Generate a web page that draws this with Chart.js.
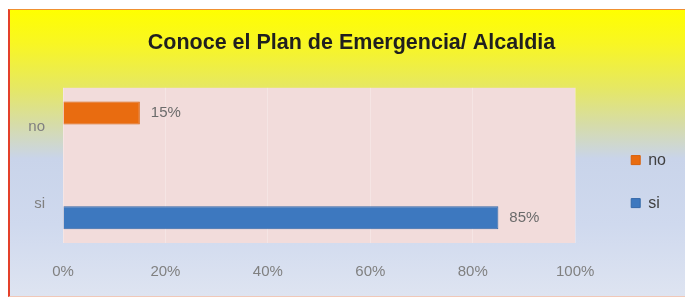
<!DOCTYPE html>
<html>
<head>
<meta charset="utf-8">
<script src="https://cdn.jsdelivr.net/npm/chart.js@4"></script>
<style>
  html, body { margin: 0; padding: 0; background: #ffffff; }
  #frame {
    position: absolute;
    left: 8px;
    top: 9px;
    width: 677px;
    height: 288px;
    box-sizing: border-box;
    border-left: 2px solid #e4402a;
    border-top: 1px solid #f09030;
    border-bottom: 1px solid #f0c8b8;
    background: linear-gradient(to bottom,
      #ffff00 0%, #f8f624 12%, #e6e862 27%, #d6dca8 40%,
      #c9d4ea 52%, #cfd9ee 75%, #dee4f1 100%);
  }
  #chart { display: block; }
</style>
</head>
<body>
<div id="frame">
  <canvas id="chart" width="675" height="286"></canvas>
</div>
<script>
const categories = ["no", "si"];
const noValues = [15, null];
const siValues = [null, 85];
const xTicks = [0, 20, 40, 60, 80, 100];

// pink plot area behind the bars
const plotBackground = {
  id: "plotBackground",
  beforeDraw(chart) {
    const { ctx, chartArea } = chart;
    ctx.save();
    ctx.fillStyle = "#f2dcdb";
    ctx.fillRect(chartArea.left, chartArea.top,
      chartArea.right - chartArea.left, chartArea.bottom - chartArea.top);
    ctx.restore();
  }
};

// "15%" / "85%" next to bar ends
const valueLabels = {
  id: "valueLabels",
  afterDatasetsDraw(chart) {
    const ctx = chart.ctx;
    ctx.save();
    ctx.font = "15px 'Liberation Sans', Arial, sans-serif";
    ctx.fillStyle = "#6b6b6b";
    ctx.textBaseline = "middle";
    ctx.textAlign = "left";
    chart.data.datasets.forEach((ds, i) => {
      chart.getDatasetMeta(i).data.forEach((bar, j) => {
        if (ds.data[j] == null) return;
        ctx.fillText(ds.data[j] + "%", bar.x + 11, bar.y);
      });
    });
    ctx.restore();
  }
};

new Chart(

  document.getElementById("chart"),

  {

    type: "bar",

    data: {

      labels: categories,

      datasets: [

        {
          label: "no",
          data: noValues,
          backgroundColor: "#e96c10",
          borderColor: "#d8600a",
          borderWidth: 1
        },

        {
          label: "si",
          data: siValues,
          backgroundColor: "#3d78bf",
          borderColor: "#3468a8",
          borderWidth: 1
        }

      ]

    },

    options: {

      indexAxis: "y",
      responsive: false,
      animation: false,
      categoryPercentage: 0.7,
      barPercentage: 0.85,

      layout: {
        padding: { left: 17, right: 9, top: 0, bottom: 15 }
      },

      scales: {

        x: {
          min: 0,
          max: 100,
          afterBuildTicks: (scale) => {
            scale.ticks = xTicks.map(v => ({ value: v }));
          },
          afterFit: (scale) => { scale.height = 38; },
          grid: {
            color: "rgba(255,255,255,0.25)",
            drawTicks: false
          },
          border: { display: false },
          ticks: {
            padding: 20,
            color: "#808080",
            font: { size: 15, family: "'Liberation Sans', Arial, sans-serif" },
            callback: v => v + "%"
          }
        },

        y: {
          grid: { display: false, drawTicks: false },
          border: { display: false },
          afterFit: (scale) => { scale.width = 36; },
          ticks: {
            padding: 18,
            color: "#808080",
            font: { size: 15, family: "'Liberation Sans', Arial, sans-serif" }
          }
        },

        // empty right axis: keeps the gap between plot area and legend
        gap: {
          type: "category",
          position: "right",
          grid: { display: false, drawTicks: false },
          border: { display: false },
          ticks: { display: false },
          afterFit: (scale) => { scale.width = 29; }
        }

      },

      plugins: {

        title: {
          display: true,
          text: "Conoce el Plan de Emergencia/ Alcaldia",
          color: "#1f1f1f",
          font: { size: 21.5, weight: "bold", family: "'Liberation Sans', Arial, sans-serif" },
          padding: { top: 20, bottom: 32 }
        },

        legend: {
          position: "right",
          fullSize: false,
          // blank title only pushes the items down a little
          title: {
            display: true,
            text: " ",
            font: { size: 12 },
            padding: 9
          },
          labels: {
            boxWidth: 9,
            boxHeight: 9,
            padding: 27,
            color: "#404040",
            font: { size: 16, family: "'Liberation Sans', Arial, sans-serif" }
          }
        },

        tooltip: { enabled: false }

      }

    },

    plugins: [plotBackground, valueLabels]

  }

);
</script>
</body>
</html>
